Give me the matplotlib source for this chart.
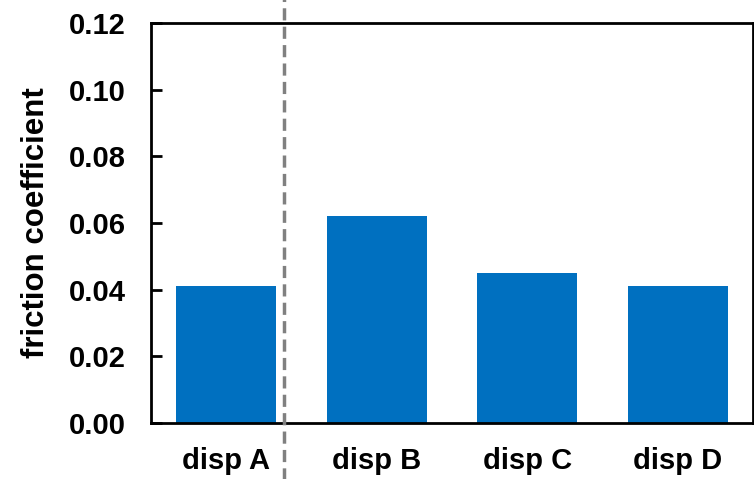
import matplotlib

matplotlib.use("Agg")
import matplotlib.pyplot as plt
import numpy as np

plt.rcParams["font.family"] = ["Liberation Sans", "DejaVu Sans"]
plt.rcParams["font.weight"] = "bold"

categories = ["disp A", "disp B", "disp C", "disp D"]
friction = [0.041, 0.062, 0.045, 0.041]
yticks = [0.00, 0.02, 0.04, 0.06, 0.08, 0.10, 0.12]

fig = plt.figure(figsize=(7.54, 4.79), dpi=100)
ax = fig.add_axes([151 / 754, 1 - 423 / 479, 602 / 754, 400 / 479])

x = np.arange(len(categories))
ax.bar(x, friction, width=0.665, color="#0070C0", zorder=2)
ax.set_xlim(-0.5, len(categories) - 0.5)
ax.set_ylim(0, 0.12)
ax.set_yticks(yticks)
ax.set_yticklabels([f"{v:.2f}" for v in yticks], fontsize=21, fontweight="bold")
ax.set_xticks(x)
ax.set_xticklabels(categories, fontsize=21, fontweight="bold")
ax.tick_params(axis="y", direction="in", length=8, width=2, pad=18)
ax.tick_params(axis="x", length=0, pad=17)
for s in ax.spines.values():
    s.set_linewidth(2)
ax.set_ylabel("friction coefficient", fontsize=22.5, fontweight="bold", labelpad=13)

# dashed divider between disp A and the rest, runs past the axes
ax.plot([0.384, 0.384], [-0.02, 0.13], ls=(0, (3.5, 1.8)), color="#808080", lw=2.5,
        clip_on=False, zorder=3)

fig.savefig("out.png", dpi=100)
